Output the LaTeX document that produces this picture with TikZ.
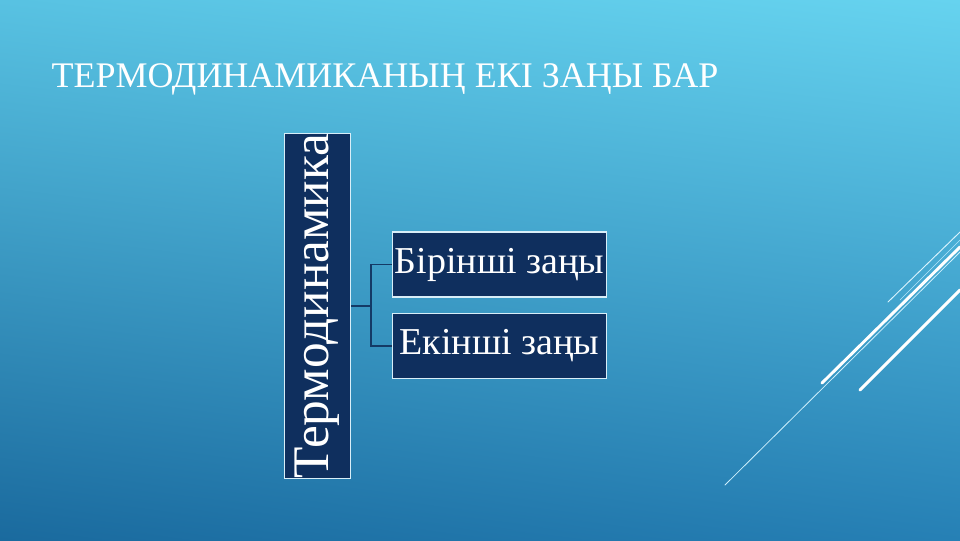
\documentclass[tikz,border=0pt]{standalone}
\usepackage{fontspec}
\setmainfont{Liberation Serif}
\usetikzlibrary{backgrounds,calc,shadings}

\definecolor{skytl}{HTML}{58C2E2}
\definecolor{skytr}{HTML}{66D3EF}
\definecolor{skybl}{HTML}{1A6A9E}
\definecolor{skybr}{HTML}{2680B5}
\definecolor{navy}{HTML}{0F2F5E}
\definecolor{boxline}{HTML}{D8EEF8}
\definecolor{linkline}{HTML}{143A66}

\begin{document}
\begin{tikzpicture}[x=0.75pt,y=-0.75pt]
    % `law' is used for the two law boxes.
    % `topic' is used for the tall rotated box.
    % `streak' is used for the thin lines on the right.
    \tikzstyle{law} = [draw=boxline,fill=navy,text=white,line width=0.8pt,inner sep=0pt,minimum width=161pt,minimum height=48.75pt,font=\fontsize{28.5}{30}\selectfont]
    \tikzstyle{topic} = [law,rotate=90,minimum width=258pt,minimum height=50pt,font=\fontsize{38.5}{40}\selectfont]
    \tikzstyle{streak} = [draw=white,line cap=round]
    \tikzstyle{link} = [draw=linkline,line width=0.8pt]
    %
    \useasboundingbox (0,0) rectangle (960,540);
    \node[anchor=base west,text=white,font=\fontsize{27}{29}\selectfont] (title) at (47,87) {ТЕРМОДИНАМИКАНЫҢ ЕКІ ЗАҢЫ БАР};
    \node[topic] (thermo) at (317.5,306) {Термодинамика};
    \node[law] (first) at (499.5,264.5) {Бірінші заңы};
    \node[law] (second) at (499.5,346) {Екінші заңы};
    \coordinate (fork) at (371,306);
  \begin{pgfonlayer}{background}
        % Draw slide backdrop.
        \shade[upper left=skytl,upper right=skytr,lower left=skybl,lower right=skybr] (0,0) rectangle (960,540);
        % Draw streaks.
        \draw[streak,line width=0.6pt,white!80!cyan] (725,485) -- (960,252);
        \draw[streak,line width=0.7pt,white!85!cyan] (888,302) -- (960,232);
        \draw[streak,line width=0.5pt,white!70!cyan] (900,300) -- (960,240);
        \draw[streak,line width=2.2pt] (822,383) -- (960,247);
        \draw[streak,line width=2.2pt] (860,390) -- (960,290);
        % Draw lines.
        \draw[link] (thermo.south) -- (fork) |- (first.west);
        \draw[link] (fork) |- (second.west);
    \end{pgfonlayer}
\end{tikzpicture}
\end{document}
